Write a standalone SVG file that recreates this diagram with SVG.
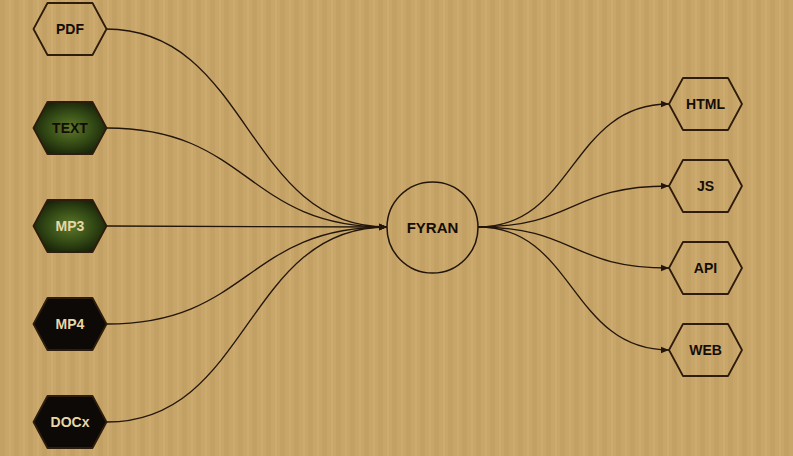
<svg xmlns="http://www.w3.org/2000/svg" width="793" height="456" viewBox="0 0 793 456">
<defs>
<style>
.hex{stroke:#2e1c0c;stroke-width:1.8;stroke-linejoin:round}
.out{fill:none}
.lbl{font-family:"Liberation Sans",Arial,sans-serif;font-weight:bold;font-size:14px;text-anchor:middle;dominant-baseline:central}
.dark{fill:#140d06}
.light{fill:#e6d7a6}
.conn path{fill:none;stroke:#22160c;stroke-width:1.3;marker-end:url(#arr)}
</style>
<marker id="arr" viewBox="0 0 10 10" refX="10" refY="5" markerWidth="8" markerHeight="8" orient="auto" markerUnits="userSpaceOnUse">
<path d="M0,1 L10,5 L0,9 z" fill="#22160c"/>
</marker>
<radialGradient id="green" cx="50%" cy="50%" r="60%">
<stop offset="0" stop-color="#5e7a2a"/>
<stop offset="0.55" stop-color="#324814"/>
<stop offset="1" stop-color="#121a07"/>
</radialGradient>
<pattern id="stripes" width="14" height="456" patternUnits="userSpaceOnUse">
<rect width="14" height="456" fill="#c8a569"/>
<rect x="0" width="5" height="456" fill="#c09d60" opacity="0.6"/>
<rect x="9" width="2" height="456" fill="#d0ae72" opacity="0.6"/>
</pattern>
<path id="hx" d="M-36.5,0 L-22.5,-26 L22.5,-26 L36.5,0 L22.5,26 L-22.5,26 Z"/>
</defs>
<rect width="793" height="456" fill="url(#stripes)"/>
<g id="connectors" class="conn">
<path d="M106,29 C250,29 245,227 387,227"/>
<path d="M107,128 C250,128 245,227 387,227"/>
<path d="M107,226 L387,227"/>
<path d="M107,324 C250,324 245,227 387,227"/>
<path d="M107,422 C250,422 245,227 387,227"/>
<path d="M478,227 C575,227 570,104 669,104"/>
<path d="M478,227 C575,227 570,186 669,186"/>
<path d="M478,227 C575,227 570,268 669,268"/>
<path d="M478,227 C575,227 570,350 669,350"/>
</g>
<g id="pdf" transform="translate(70,29)"><use href="#hx" class="hex out"/><text class="lbl dark" x="0" y="0">PDF</text></g>
<g id="text" transform="translate(70,128)"><use href="#hx" class="hex" fill="url(#green)"/><text class="lbl dark" x="0" y="0">TEXT</text></g>
<g id="mp3" transform="translate(70,226)"><use href="#hx" class="hex" fill="url(#green)"/><text class="lbl light" x="0" y="0">MP3</text></g>
<g id="mp4" transform="translate(70,324)"><use href="#hx" class="hex" fill="#0c0906"/><text class="lbl light" x="0" y="0">MP4</text></g>
<g id="docx" transform="translate(70,422)"><use href="#hx" class="hex" fill="#0c0906"/><text class="lbl light" x="0" y="0">DOCx</text></g>
<g id="fyran"><circle cx="432.5" cy="227.5" r="45.5" fill="none" stroke="#22160c" stroke-width="1.5"/><text class="lbl dark" x="432.5" y="227.5" style="font-size:15px">FYRAN</text></g>
<g id="html" transform="translate(705.5,104)"><use href="#hx" class="hex out"/><text class="lbl dark" x="0" y="0">HTML</text></g>
<g id="js" transform="translate(705.5,186)"><use href="#hx" class="hex out"/><text class="lbl dark" x="0" y="0">JS</text></g>
<g id="api" transform="translate(705.5,268)"><use href="#hx" class="hex out"/><text class="lbl dark" x="0" y="0">API</text></g>
<g id="web" transform="translate(705.5,350)"><use href="#hx" class="hex out"/><text class="lbl dark" x="0" y="0">WEB</text></g>
</svg>
